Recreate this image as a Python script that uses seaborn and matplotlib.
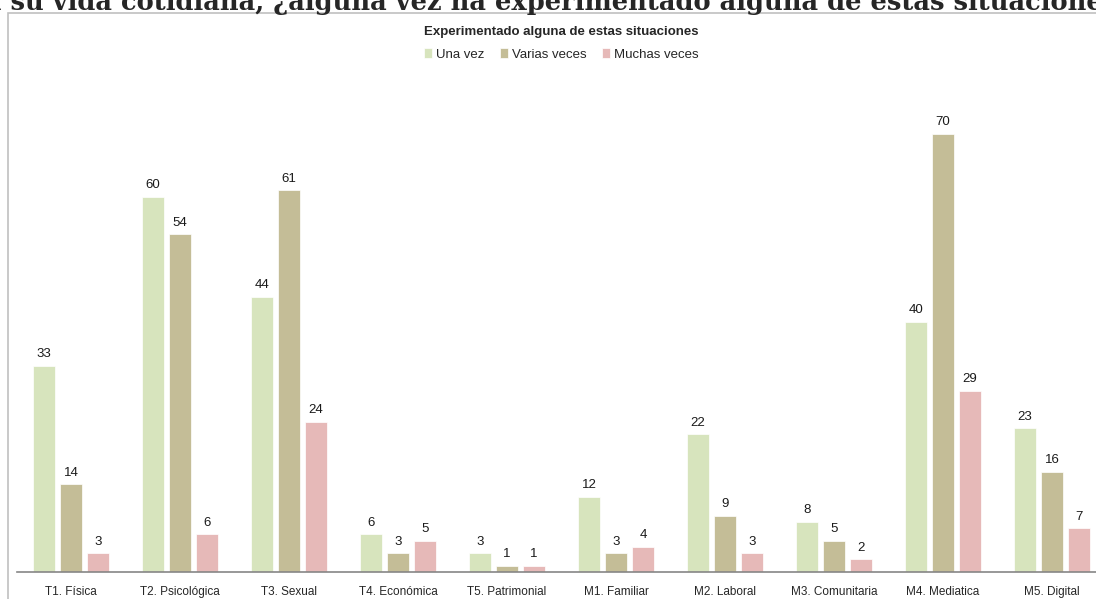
import seaborn as sns
import pandas as pd
import matplotlib.pyplot as plt
from matplotlib.patches import Rectangle

categorias = ['T1. Física', 'T2. Psicológica', 'T3. Sexual', 'T4. Económica', 'T5. Patrimonial',
              'M1. Familiar', 'M2. Laboral', 'M3. Comunitaria', 'M4. Mediatica', 'M5. Digital']
una_vez = [33, 60, 44, 6, 3, 12, 22, 8, 40, 23]
varias_veces = [14, 54, 61, 3, 1, 3, 9, 5, 70, 16]
muchas_veces = [3, 6, 24, 5, 1, 4, 3, 2, 29, 7]
series = ['Una vez', 'Varias veces', 'Muchas veces']
colores = ['#D7E4BD', '#C4BD97', '#E6B9B8']

df = pd.DataFrame({'categoria': categorias, 'Una vez': una_vez,
                   'Varias veces': varias_veces, 'Muchas veces': muchas_veces})
df = df.melt(id_vars='categoria', var_name='serie', value_name='valor')

sns.set_style('white')
plt.rcParams['font.family'] = ['Liberation Sans', 'DejaVu Sans']

W, H = 1096, 599
fig = plt.figure(figsize=(W / 100, H / 100), dpi=100)

# marco del grafico
fig.patches.append(Rectangle((8 / W, -0.1), 1.2, 1 - 13 / H + 0.1, transform=fig.transFigure,
                             fill=False, edgecolor='#C0C0C0', linewidth=1.2))

# titulo principal (recortado arriba como en el original)
fig.text(548 / W, 1 - 10 / H, 'En su vida cotidiana, ¿alguna vez ha experimentado alguna de estas situaciones?',
         ha='center', va='baseline', fontsize=18.5, fontweight='bold',
         family=['DejaVu Serif'])

left, right = 16.5, 1106.5
bottom, top = 572, 60
ax = fig.add_axes([left / W, 1 - bottom / H, (right - left) / W, (bottom - top) / H])
sns.barplot(data=df, x='categoria', y='valor', hue='serie', hue_order=series,
            palette=colores, saturation=1, width=0.745, gap=0.17, ax=ax,
            edgecolor='white', linewidth=0.5)

ax.set_ylim(0, (bottom - top) / 6.257)
ax.set_xlim(-0.5, len(categorias) - 0.5)
for c in ax.containers:
    ax.bar_label(c, padding=4, fontsize=9.5, color='#1a1a1a')

ax.set_xlabel('')
ax.set_ylabel('')
ax.set_yticks([])
ax.tick_params(axis='x', length=0, labelsize=8.5, pad=10)
for s in ['top', 'right', 'left']:
    ax.spines[s].set_visible(False)
ax.spines['bottom'].set_color('#868686')
ax.spines['bottom'].set_linewidth(1.2)
ax.patch.set_alpha(0)

ax.legend(loc='upper center', bbox_to_anchor=(0.5, 1 + 17 / (bottom - top)), ncol=3, frameon=False,
          fontsize=9.5, handlelength=0.6, handleheight=0.8, handletextpad=0.3, columnspacing=1.2,
          borderaxespad=0)
ax.set_title('Experimentado alguna de estas situaciones', fontsize=9.5, fontweight='bold', pad=0,
             y=1 + 25 / (bottom - top))

fig.savefig('out.png', dpi=100)
